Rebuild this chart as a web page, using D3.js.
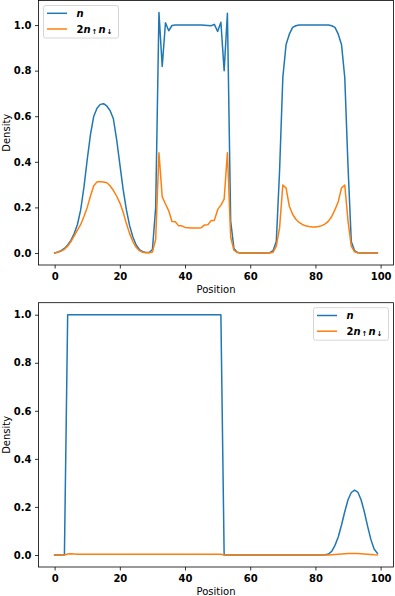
<!DOCTYPE html>
<html>
<head>
<meta charset="utf-8">
<script src="https://cdn.jsdelivr.net/npm/d3@7"></script>
<style>
  html, body { margin: 0; padding: 0; background: #fff; }
  svg { display: block; }
</style>
</head>
<body>
<script>
// ---------- data ----------
const positions = d3.range(0, 100);

const topDensity = [
 0.000,0.004,0.010,0.020,0.035,0.055,0.085,0.125,0.190,0.290,
 0.410,0.520,0.600,0.635,0.652,0.655,0.645,0.625,0.590,0.500,
 0.390,0.280,0.190,0.120,0.070,0.035,0.015,0.006,0.002,0.002,
 0.015,0.200,1.055,0.818,1.010,0.975,0.998,1.000,1.000,1.000,
 1.000,1.000,1.000,1.000,1.000,1.000,0.999,0.998,0.997,1.003,
 0.972,1.012,0.800,1.052,0.140,0.020,0.003,0.000,0.000,0.000,
 0.000,0.000,0.000,0.000,0.000,0.000,0.001,0.010,0.050,0.360,
 0.770,0.915,0.960,0.990,0.997,1.000,1.000,1.000,1.000,1.000,
 1.000,1.000,1.000,1.000,1.000,0.997,0.990,0.960,0.915,0.770,
 0.380,0.050,0.010,0.001,0.000,0.000,0.000,0.000,0.000,0.000];

const topDouble = [
 0.000,0.003,0.008,0.016,0.030,0.050,0.075,0.100,0.125,0.160,
 0.200,0.250,0.295,0.312,0.313,0.311,0.308,0.295,0.275,0.250,
 0.220,0.180,0.130,0.085,0.050,0.025,0.010,0.003,0.001,0.001,
 0.004,0.060,0.440,0.247,0.215,0.185,0.138,0.137,0.120,0.119,
 0.112,0.111,0.110,0.110,0.110,0.111,0.123,0.124,0.142,0.143,
 0.190,0.210,0.236,0.440,0.070,0.012,0.002,0.000,0.000,0.000,
 0.000,0.000,0.000,0.000,0.000,0.000,0.000,0.003,0.030,0.110,
 0.298,0.285,0.205,0.170,0.148,0.134,0.125,0.119,0.116,0.114,
 0.114,0.116,0.120,0.128,0.140,0.160,0.190,0.225,0.285,0.298,
 0.140,0.030,0.005,0.001,0.000,0.000,0.000,0.000,0.000,0.000];

const bottomDensity = [
 0,0,0,0,1,1,1,1,1,1,
 1,1,1,1,1,1,1,1,1,1,
 1,1,1,1,1,1,1,1,1,1,
 1,1,1,1,1,1,1,1,1,1,
 1,1,1,1,1,1,1,1,1,1,
 1,1,0,0,0,0,0,0,0,0,
 0,0,0,0,0,0,0,0,0,0,
 0,0,0,0,0,0,0,0,0,0,
 0,0,0,0.001,0.004,0.015,0.040,0.075,0.125,0.180,
 0.230,0.260,0.270,0.262,0.230,0.180,0.120,0.065,0.025,0.007];

const bottomDouble = [
 0,0,0,0,0.004,0.005,0.004,0.003,0.003,0.003,
 0.003,0.003,0.003,0.003,0.003,0.003,0.003,0.003,0.003,0.003,
 0.003,0.003,0.003,0.003,0.003,0.003,0.003,0.003,0.003,0.003,
 0.003,0.003,0.003,0.003,0.003,0.003,0.003,0.003,0.003,0.003,
 0.003,0.003,0.003,0.003,0.003,0.003,0.003,0.003,0.003,0.003,
 0.003,0.003,0,0,0,0,0,0,0,0,
 0,0,0,0,0,0,0,0,0,0,
 0,0,0,0,0,0,0,0,0,0,
 0,0,0,0,0,0.001,0.002,0.003,0.004,0.005,
 0.006,0.006,0.006,0.006,0.005,0.004,0.003,0.002,0.001,0.0005];

const xTicks = [0, 20, 40, 60, 80, 100];
const yTicks = [0.0, 0.2, 0.4, 0.6, 0.8, 1.0];
const xLabel = "Position";
const yLabel = "Density";

const colors = { n: "#1f77b4", d: "#ff7f0e" };

// ---------- drawing ----------
const W = 395, H = 596;
const svg = d3.select("body").append("svg")
  .attr("width", W).attr("height", H)
  .attr("viewBox", `0 0 ${W} ${H}`);
svg.append("rect").attr("width", W).attr("height", H).attr("fill", "#fff");

const FONT = "DejaVu Sans, sans-serif";

function margins(arrs) {
  const all = [].concat(...arrs);
  const lo = d3.min(all), hi = d3.max(all);
  const pad = (hi - lo) * 0.05;
  return [lo - pad, hi + pad];
}

function panel(cfg) {
  const { left, right, top, bottom, nVals, dVals, legendPos } = cfg;
  const g = svg.append("g");
  const xs = d3.scaleLinear().domain(margins([positions])).range([left, right]);
  const ys = d3.scaleLinear().domain(margins([nVals, dVals])).range([bottom, top]);

  // lines
  const line = d3.line().x((d, i) => xs(positions[i])).y(d => ys(d));
  const clipId = "clip" + Math.round(top);
  svg.append("clipPath").attr("id", clipId).append("rect")
    .attr("x", left).attr("y", top).attr("width", right - left).attr("height", bottom - top);
  const lg = g.append("g").attr("clip-path", `url(#${clipId})`);
  lg.append("path").datum(nVals).attr("d", line)
    .attr("fill", "none").attr("stroke", colors.n).attr("stroke-width", 1.5)
    .attr("stroke-linejoin", "round").attr("stroke-linecap", "square");
  lg.append("path").datum(dVals).attr("d", line)
    .attr("fill", "none").attr("stroke", colors.d).attr("stroke-width", 1.5)
    .attr("stroke-linejoin", "round").attr("stroke-linecap", "square");

  // axes
  const xAxis = d3.axisBottom(xs).tickValues(xTicks).tickSize(3.5).tickPadding(3.5)
    .tickFormat(d3.format("d"));
  const yAxis = d3.axisLeft(ys).tickValues(yTicks).tickSize(3.5).tickPadding(3.5)
    .tickFormat(d3.format(".1f"));
  const gx = g.append("g").attr("transform", `translate(0,${bottom})`).call(xAxis);
  const gy = g.append("g").attr("transform", `translate(${left},0)`).call(yAxis);
  [gx, gy].forEach(a => {
    a.select(".domain").remove();
    a.selectAll(".tick line").attr("stroke", "#000").attr("stroke-width", 0.8);
    a.selectAll(".tick text").attr("fill", "#000")
      .attr("font-family", FONT).attr("font-weight", "bold").attr("font-size", 10);
  });
  gx.selectAll(".tick text").attr("dy", "0.76em");

  // frame
  g.append("rect").attr("x", left).attr("y", top)
    .attr("width", right - left).attr("height", bottom - top)
    .attr("fill", "none").attr("stroke", "#000").attr("stroke-width", 0.8);

  // labels
  g.append("text").attr("x", (left + right) / 2).attr("y", bottom + 27.5)
    .attr("text-anchor", "middle").attr("font-family", FONT).attr("font-size", 10)
    .text(xLabel);
  g.append("text")
    .attr("transform", `translate(9.5,${(top + bottom) / 2}) rotate(-90)`)
    .attr("text-anchor", "middle").attr("font-family", FONT).attr("font-size", 10)
    .text(yLabel);

  // legend
  const lw = 75, lh = 32.5;
  const lx = legendPos === "left" ? left + 5 : right - 5 - lw;
  const ly = top + 5;
  const leg = g.append("g").attr("transform", `translate(${lx},${ly})`);
  leg.append("rect").attr("width", lw).attr("height", lh).attr("rx", 2)
    .attr("fill", "#fff").attr("fill-opacity", 0.8)
    .attr("stroke", "#cccccc").attr("stroke-width", 0.8);
  const rows = [{ c: colors.n, y: 7.8 }, { c: colors.d, y: 23.5 }];
  rows.forEach((r, i) => {
    leg.append("line").attr("x1", 3.5).attr("x2", 23.5).attr("y1", r.y).attr("y2", r.y)
      .attr("stroke", r.c).attr("stroke-width", 1.5);
    const t = leg.append("text").attr("x", 33).attr("y", r.y + 3.6)
      .attr("font-family", FONT).attr("font-size", 10).attr("font-weight", "bold");
    if (i === 0) {
      t.append("tspan").attr("font-style", "italic").text("n");
    } else {
      t.append("tspan").text("2");
      t.append("tspan").attr("font-style", "italic").text("n");
      t.append("tspan").attr("font-size", 7).attr("dy", 1.5).attr("dx", 1).text("↑");
      t.append("tspan").attr("font-style", "italic").attr("dy", -1.5).attr("dx", 1).text("n");
      t.append("tspan").attr("font-size", 7).attr("dy", 1.5).attr("dx", 1).text("↓");
    }
  });
}

panel({ left: 38.5, right: 393.5, top: 0.5, bottom: 265, nVals: topDensity, dVals: topDouble, legendPos: "left" });
panel({ left: 38.5, right: 393.5, top: 302.7, bottom: 567, nVals: bottomDensity, dVals: bottomDouble, legendPos: "right" });
</script>
</body>
</html>
